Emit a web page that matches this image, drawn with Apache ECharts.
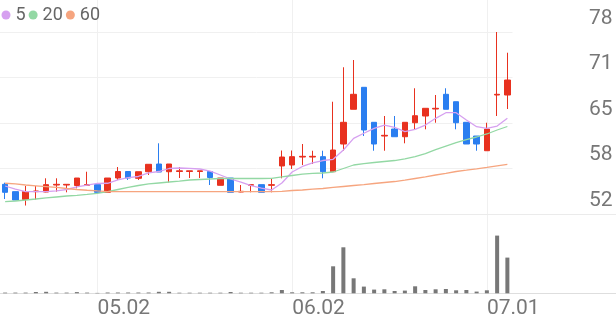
<!DOCTYPE html>
<html><head><meta charset="utf-8">
<script src="https://cdn.jsdelivr.net/npm/echarts@6/dist/echarts.min.js"></script>
<style>html,body{margin:0;padding:0;background:#fff}#c{width:616px;height:321px}</style>
</head><body><div id="c"></div>
<script>
const dates = ['04.18','04.21','04.22','04.23','04.24','04.25','04.28','04.29','04.30','05.02',
  '05.07','05.08','05.09','05.12','05.13','05.14','05.15','05.16','05.19','05.20',
  '05.21','05.22','05.23','05.26','05.27','05.28','05.29','05.30','06.02','06.04',
  '06.05','06.09','06.10','06.11','06.12','06.13','06.16','06.17','06.18','06.19',
  '06.20','06.23','06.24','06.25','06.26','06.27','06.30','07.01','07.02','07.03'];
const tickDates = ['05.02','06.02','07.01'];
const priceTicks = [52, 58, 65, 71, 78];

const opens = [56.24,55.19,54.07,55.19,55.14,56.14,56.14,56.07,56.1,56.19,
  55.1,57.14,58.07,57.1,58.04,59.14,58.04,58.07,58.07,58.07,
  58.07,56.1,57.14,55.14,56.1,56.19,56.1,58.86,59.0,60.14,
  60.14,60.19,58.04,62.0,66.96,70.1,65.1,63.14,64.14,63.04,
  65.04,66.0,67.0,69.1,68.04,65.1,63.14,61.04,69.0,69.0];
const closes = [55.1,54.0,55.21,55.29,56.19,56.24,56.24,57.14,56.2,55.1,
  57.14,58.07,57.14,58.04,59.1,58.0,59.14,58.17,58.17,58.17,
  57.21,57.14,55.1,55.24,56.19,55.1,56.19,60.14,60.19,60.24,
  60.24,58.04,61.14,65.1,69.1,64.0,62.0,63.24,63.04,65.1,
  66.04,67.1,67.1,66.96,65.04,62.0,62.0,64.14,69.1,71.14];
const lows = [54.14,54.0,53.21,54.07,55.1,55.19,55.1,55.67,56.0,55.1,
  55.1,56.86,56.86,56.86,57.57,58.0,56.5,57.14,57.14,57.14,
  56.14,56.1,55.1,55.1,55.1,55.1,55.1,57.1,58.43,59.0,
  59.14,57.1,58.04,61.04,66.96,63.14,61.04,61.04,63.04,62.1,
  64.0,64.1,65.04,66.96,64.1,62.0,61.04,61.04,66.0,67.0];
const highs = [56.47,55.19,56.0,56.0,57.1,57.1,56.24,57.14,58.04,56.19,
  57.14,58.71,58.07,58.04,59.1,62.1,59.14,58.71,58.17,58.17,
  58.07,57.14,57.14,56.14,56.19,56.19,57.1,61.07,61.07,62.0,
  61.04,61.04,68.04,72.96,74.0,70.1,65.1,66.0,66.0,65.1,
  69.96,67.1,69.0,69.96,68.04,65.1,63.14,65.04,78.0,75.04];

const ma5 = [56.0,55.57,55.21,55.19,55.19,55.29,55.5,55.86,56.14,56.36,
  56.39,56.86,57.21,57.36,57.86,58.07,58.5,58.57,58.53,58.43,
  58.14,57.57,57.0,56.57,56.07,55.71,55.43,56.43,58.0,58.79,
  59.29,59.64,59.81,61.14,62.81,63.53,64.24,64.71,64.39,63.76,
  64.1,64.71,65.67,66.47,66.47,65.43,64.47,64.24,64.57,65.67];
const ma20 = [53.76,53.86,54.0,54.14,54.29,54.43,54.57,54.67,54.79,54.96,
  55.21,55.5,55.79,56.07,56.29,56.43,56.57,56.71,56.86,56.93,
  57.0,57.07,57.07,57.07,57.07,57.07,57.1,57.29,57.5,57.71,
  57.79,57.86,58.0,58.5,59.0,59.21,59.36,59.5,59.64,59.86,
  60.21,60.64,61.21,61.71,62.21,62.64,63.0,63.43,64.0,64.5];
const ma60 = [56.39,56.29,56.14,56.03,55.91,55.79,55.64,55.5,55.39,55.29,
  55.21,55.19,55.19,55.19,55.19,55.19,55.19,55.19,55.19,55.19,
  55.19,55.19,55.19,55.19,55.19,55.19,55.19,55.24,55.36,55.43,
  55.54,55.64,55.79,55.93,56.07,56.21,56.36,56.5,56.64,56.83,
  57.07,57.31,57.57,57.81,58.07,58.26,58.46,58.67,58.89,59.1];

const volumes = [0.7,0.7,0.7,1.3,1.5,0.7,0.7,1.2,0.7,0.4,
  0.8,0.8,0.8,0.8,0.8,1.5,1.5,0.6,0.6,0.6,
  0.6,0.6,1.3,0.6,0.6,0.6,1.0,3.3,1.0,1.0,
  1.0,2.3,27,46,15,6.7,3.7,4,2.3,2.7,
  7,3.3,4,4.3,3,3.3,1.7,3,57.7,35.7];

const UP = '#e8311f', DOWN = '#2a7ef0';
const C5 = '#d6a0f0', C20 = '#93d8a4', C60 = '#f6a57f';
const FONT = 'Roboto';
const PLOT_W = 512.5;

const chart = echarts.init(document.getElementById('c'), null, {renderer: 'canvas'});
const hiddenVal = (g) => ({type: 'value', gridIndex: g, show: false, min: 0, max: 1});
chart.setOption({
  animation: false,
  legend: {
    data: [{name: '5', textStyle: {width: 14}}, {name: '20'}, {name: '60'}],
    left: 1.5, top: 6, padding: 0, itemGap: 3, itemWidth: 9, itemHeight: 9, icon: 'circle',
    textStyle: {fontFamily: FONT, fontSize: 18, color: '#666'}
  },
  grid: [
    {left: 0, top: 32, width: PLOT_W, height: 182},
    {left: 0, top: 235.6, width: PLOT_W, height: 57.7},
    {left: 0, top: 0, width: PLOT_W, height: 293.3},
    {left: 0, right: 0, top: 32, height: 182},
    {left: 0, right: 0, top: 235.6, height: 57.7}
  ],
  xAxis: [
    {type: 'category', gridIndex: 0, data: dates, show: false},
    {type: 'category', gridIndex: 1, data: dates, show: false},
    {type: 'category', gridIndex: 2, data: dates,
      axisLine: {show: false}, axisTick: {show: false},
      axisLabel: {interval: (i, v) => tickDates.includes(v), align: 'left', margin: 5,
        fontFamily: FONT, fontSize: 21, color: '#777'},
      splitLine: {show: true, alignWithLabel: true, interval: (i, v) => tickDates.includes(v),
        lineStyle: {color: '#f0f0f0', width: 1}}},
    {type: 'value', gridIndex: 3, min: 0, max: 1, axisLine: {show: true, lineStyle: {color: '#ebebeb'}},
      axisTick: {show: false}, axisLabel: {show: false}, splitLine: {show: false}},
    {type: 'value', gridIndex: 4, min: 0, max: 1, axisLine: {show: true, lineStyle: {color: '#dedede'}},
      axisTick: {show: false}, axisLabel: {show: false}, splitLine: {show: false}}
  ],
  yAxis: [
    {type: 'value', gridIndex: 0, position: 'right', min: 52, max: 78, interval: 6.5, scale: true,
      axisLine: {show: false}, axisTick: {show: false},
      axisLabel: {margin: 100, align: 'right', verticalAlign: 'bottom', padding: [0, 0, 3, 0],
        fontFamily: FONT, fontSize: 21, color: '#777',
        formatter: (v) => { const t = priceTicks.find(p => Math.abs(p - v) < 1); return t === undefined ? '' : String(t); }},
      splitLine: {show: true, lineStyle: {color: '#f0f0f0', width: 1}}},
    {type: 'value', gridIndex: 1, show: false, min: 0, max: 'dataMax'},
    hiddenVal(2), hiddenVal(3), hiddenVal(4)
  ],
  series: [
    {type: 'candlestick', name: 'price', xAxisIndex: 0, yAxisIndex: 0, barWidth: 6,
      data: dates.map((d, i) => [opens[i], closes[i], lows[i], highs[i]]),
      itemStyle: {color: UP, color0: DOWN, borderColor: UP, borderColor0: DOWN, borderWidth: 1}},
    {type: 'line', name: '5', xAxisIndex: 0, yAxisIndex: 0, data: ma5, showSymbol: false,
      color: C5, lineStyle: {width: 1.3, color: C5}},
    {type: 'line', name: '20', xAxisIndex: 0, yAxisIndex: 0, data: ma20, showSymbol: false,
      color: C20, lineStyle: {width: 1.3, color: C20}},
    {type: 'line', name: '60', xAxisIndex: 0, yAxisIndex: 0, data: ma60, showSymbol: false,
      color: C60, lineStyle: {width: 1.3, color: C60}},
    {type: 'bar', name: 'vol', xAxisIndex: 1, yAxisIndex: 1, data: volumes, barWidth: 4,
      itemStyle: {color: '#777'}}
  ]
});
</script></body></html>
